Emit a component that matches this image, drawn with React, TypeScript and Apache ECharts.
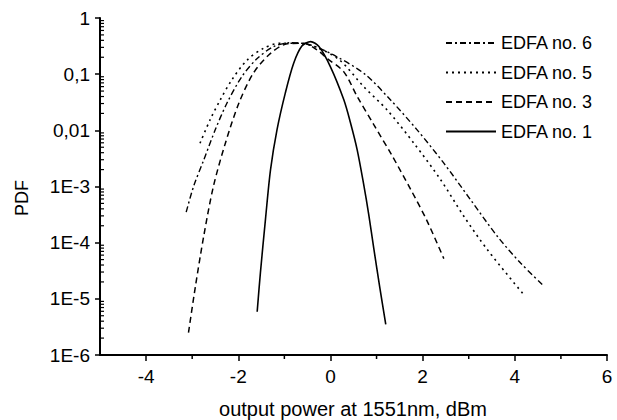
import React, { useEffect, useRef } from "react";
import * as echarts from "echarts";

// ---- data ----
const seriesNames = ["EDFA no. 6", "EDFA no. 5", "EDFA no. 3", "EDFA no. 1"];

const edfa6X = [-3.13, -2.97, -2.75, -2.5, -2.25, -1.92, -1.59, -1.23, -0.87, -0.43, 0.14, 0.76, 1.3, 1.88, 2.46, 3.04, 3.62, 4.13, 4.64];
const edfa6Y = [3.5e-4, 1.0e-3, 2.95e-3, 0.0102, 0.03, 0.091, 0.19, 0.31, 0.363, 0.33, 0.204, 0.098, 0.035, 0.0102, 2.6e-3, 5.8e-4, 1.3e-4, 4.3e-5, 1.66e-5];

const edfa5X = [-2.83, -2.61, -2.39, -2.14, -1.81, -1.45, -1.09, -0.72, -0.3, 0.2, 0.72, 1.23, 1.81, 2.39, 2.9, 3.41, 4.2];
const edfa5Y = [5.9e-3, 0.0155, 0.035, 0.079, 0.178, 0.29, 0.355, 0.355, 0.3, 0.178, 0.06, 0.023, 5.9e-3, 1.32e-3, 2.9e-4, 7.4e-5, 1.17e-5];

const edfa3X = [-3.08, -2.93, -2.75, -2.54, -2.28, -1.99, -1.67, -1.3, -0.94, -0.58, -0.29, -0.07, 0.29, 0.58, 0.94, 1.34, 1.74, 2.1, 2.46];
const edfa3Y = [2.5e-6, 1.66e-5, 1.3e-4, 1.0e-3, 5.9e-3, 0.03, 0.105, 0.234, 0.347, 0.355, 0.27, 0.19, 0.11, 0.04, 0.0126, 3.5e-3, 8.9e-4, 2.4e-4, 5.2e-5];

const edfa1X = [-1.59, -1.52, -1.41, -1.3, -1.16, -0.98, -0.8, -0.62, -0.43, -0.25, 0.0, 0.29, 0.43, 0.58, 0.72, 0.83, 0.94, 1.07, 1.2];
const edfa1Y = [5.9e-6, 2.9e-5, 2.6e-4, 2.0e-3, 0.0102, 0.046, 0.155, 0.316, 0.38, 0.31, 0.135, 0.035, 0.0141, 4.5e-3, 1.1e-3, 3.2e-4, 7.9e-5, 1.6e-5, 3.5e-6];

const xTickValues = [-4, -2, 0, 2, 4, 6];
const xMinorTickValues = [-3, -1, 1, 3, 5];
const yTickLabels = ["1E-6", "1E-5", "1E-4", "1E-3", "0,01", "0,1", "1"];
const yMinorMantissas = [2, 3, 4, 5, 6, 7, 8, 9];
const xAxisTitle = "output power at 1551nm, dBm";
const yAxisTitle = "PDF";

const FONT = "'Liberation Sans', Arial, sans-serif";

function pairs(xs: number[], ys: number[]) {
  return xs.map((x, i) => [x, ys[i]]);
}

export default function App() {
  const ref = useRef<HTMLDivElement>(null);

  useEffect(() => {
    document.body.style.margin = "0";
    if (!ref.current) return;
    const chart = echarts.init(ref.current, undefined, { renderer: "svg" });

    const yMinorTickValues: number[] = [];
    for (let e = -6; e < 0; e++) {
      for (const m of yMinorMantissas) yMinorTickValues.push(m * Math.pow(10, e));
    }

    const lineSeries = (name: string, xs: number[], ys: number[], type: any, width: number) => ({
      name,
      type: "line",
      data: pairs(xs, ys),
      symbol: "none",
      showSymbol: false,
      smooth: 0.3,
      lineStyle: { color: "#000", width, type },
      itemStyle: { color: "#000" },
    });

    chart.setOption({
      animation: false,
      backgroundColor: "#fff",
      grid: { left: 100, right: 10, top: 18, bottom: 65, containLabel: false },
      legend: {
        data: seriesNames,
        orient: "vertical",
        left: 445,
        top: 34,
        padding: 0,
        itemWidth: 50,
        itemHeight: 10,
        itemGap: 11.5,
        itemStyle: { opacity: 0 },
        textStyle: { color: "#000", fontSize: 18, fontFamily: FONT, lineHeight: 18 },
        selectedMode: false,
      },
      xAxis: {
        type: "value",
        min: -5,
        max: 6,
        axisLine: { show: true, onZero: false, lineStyle: { color: "#000", width: 2 } },
        axisTick: { show: true, length: 6, customValues: xTickValues, lineStyle: { color: "#000", width: 1.5 } },
        axisLabel: { customValues: xTickValues, color: "#000", fontSize: 19, fontFamily: FONT, margin: 12 },
        splitLine: { show: false },
      },
      yAxis: {
        type: "log",
        logBase: 10,
        min: 1e-6,
        max: 1,
        axisLine: { show: true, onZero: false, lineStyle: { color: "#000", width: 2 } },
        axisTick: { show: true, length: 5, lineStyle: { color: "#000", width: 1.5 } },
        axisLabel: {
          color: "#000",
          fontSize: 19,
          fontFamily: FONT,
          margin: 10,
          formatter: (v: number) => yTickLabels[Math.round(Math.log10(v)) + 6] ?? "",
        },
        splitLine: { show: false },
      },
      series: [
        lineSeries(seriesNames[0], edfa6X, edfa6Y, [6, 3, 2, 3], 1.4),
        lineSeries(seriesNames[1], edfa5X, edfa5Y, [2, 4], 1.6),
        lineSeries(seriesNames[2], edfa3X, edfa3Y, [6, 4], 1.5),
        lineSeries(seriesNames[3], edfa1X, edfa1Y, "solid", 1.6),
      ],
    });

    // minor ticks placed through the chart's own scales
    const px = (x: number, y: number) => chart.convertToPixel({ gridIndex: 0 }, [x, y]) as number[];
    const graphics: any[] = [];
    for (const v of yMinorTickValues) {
      const p = px(-5, v);
      graphics.push({
        type: "line",
        shape: { x1: p[0] + 1, y1: p[1], x2: p[0] + 4, y2: p[1] },
        style: { stroke: "#000", lineWidth: 1.2 },
        silent: true,
      });
    }
    for (const v of xMinorTickValues) {
      const p = px(v, 1e-6);
      graphics.push({
        type: "line",
        shape: { x1: p[0], y1: p[1] + 1, x2: p[0], y2: p[1] + 4 },
        style: { stroke: "#000", lineWidth: 1.5 },
        silent: true,
      });
    }
    graphics.push(
      {
        type: "text",
        x: 353,
        y: 409,
        style: { text: xAxisTitle, fill: "#000", fontSize: 20, fontFamily: FONT, align: "center", verticalAlign: "middle" },
      },
      {
        type: "text",
        x: 22,
        y: 198,
        rotation: Math.PI / 2,
        style: { text: yAxisTitle, fill: "#000", fontSize: 18, fontFamily: FONT, align: "center", verticalAlign: "middle" },
      }
    );
    chart.setOption({ graphic: graphics });

    return () => chart.dispose();
  }, []);

  return <div ref={ref} style={{ width: 617, height: 420 }} />;
}
